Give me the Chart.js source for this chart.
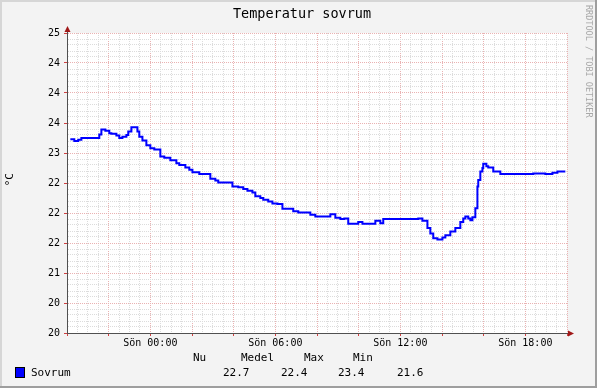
<!DOCTYPE html>
<html>
<head>
<meta charset="utf-8">
<script src="https://cdn.jsdelivr.net/npm/chart.js@4/dist/chart.umd.min.js"></script>
<style>
  html, body { margin: 0; padding: 0; background: #f3f3f3; }
  canvas { display: block; }
</style>
</head>
<body>
<canvas id="chart" width="597" height="388"></canvas>
<script>
const chartTitle = "Temperatur sovrum";
const seriesName = "Sovrum";
const unitLabel = " °C";

// timmar relativt Sön 00:00 (steg startar vid varje tid) och temperatur
const hours = [-3.84, -3.65, -3.46, -3.31, -2.45, -2.35, -2.16, -1.97, -1.87, -1.63,
  -1.49, -1.34, -1.15, -1.06, -0.91, -0.62, -0.53, -0.38, -0.19, 0,
  0.19, 0.48, 0.67, 0.96, 1.25, 1.39, 1.68, 1.87, 2.02, 2.35,
  2.88, 3.12, 3.26, 3.94, 4.22, 4.46, 4.66, 4.90, 5.04, 5.28,
  5.42, 5.66, 5.86, 6.10, 6.34, 6.86, 7.10, 7.68, 7.92, 8.64,
  8.88, 9.12, 9.31, 9.50, 9.98, 10.18, 10.80, 11.04, 11.18, 12.86,
  13.06, 13.30, 13.44, 13.58, 13.78, 14.02, 14.16, 14.40, 14.64, 14.88,
  15.02, 15.12, 15.26, 15.36, 15.46, 15.60, 15.70, 15.74, 15.84, 15.94,
  15.98, 16.13, 16.22, 16.46, 16.80, 18.38, 18.96, 19.30, 19.54, 19.92];
const temps = [23.23, 23.20, 23.22, 23.25, 23.31, 23.39, 23.37, 23.33, 23.32, 23.29,
  23.25, 23.27, 23.30, 23.36, 23.43, 23.36, 23.27, 23.21, 23.13, 23.08,
  23.06, 22.94, 22.92, 22.88, 22.83, 22.80, 22.76, 22.72, 22.68, 22.65,
  22.57, 22.54, 22.51, 22.44, 22.43, 22.40, 22.37, 22.34, 22.28, 22.25,
  22.22, 22.19, 22.16, 22.15, 22.07, 22.03, 22.01, 21.97, 21.94, 21.98,
  21.92, 21.90, 21.91, 21.82, 21.85, 21.82, 21.87, 21.83, 21.90, 21.91,
  21.87, 21.75, 21.66, 21.58, 21.56, 21.59, 21.63, 21.69, 21.75, 21.85,
  21.91, 21.94, 21.91, 21.88, 21.93, 22.08, 22.44, 22.55, 22.69, 22.75,
  22.82, 22.78, 22.76, 22.69, 22.65, 22.66, 22.65, 22.67, 22.69, 22.69];

// y-etiketter 20..25 i steg om 0.5 (avrundade som i rrdtool)
const yTickLabels = ["20", "20", "21", "22", "22", "22", "23", "24", "24", "24", "25"];
const xTickHours = [0, 6, 12, 18];
const xTickLabels = ["Sön 00:00", "Sön 06:00", "Sön 12:00", "Sön 18:00"];

const statNames = ["Nu", "Medel", "Max", "Min"];
const statValues = ["22.7", "22.4", "23.4", "21.6"];

const MONO = '"DejaVu Sans Mono", monospace';
const MINOR = "#dcdcdc";
const MAJOR = "#eab2b2";

const isMultiple = (v, step) => Math.abs(v / step - Math.round(v / step)) < 1e-6;

const rrdFrame = {
  id: "rrdFrame",
  beforeDraw(chart) {
    const { ctx, width, height, chartArea: a } = chart;
    ctx.save();
    ctx.fillStyle = "#f3f3f3";
    ctx.fillRect(0, 0, width, height);
    ctx.fillStyle = "#ffffff";
    ctx.fillRect(a.left, a.top, a.right - a.left, a.bottom - a.top);
    ctx.fillStyle = "#d6d6d6";
    ctx.fillRect(0, 0, width, 2);
    ctx.fillRect(0, 0, 2, height);
    ctx.fillStyle = "#9e9e9e";
    ctx.fillRect(0, height - 2, width, 2);
    ctx.fillRect(width - 2, 0, 2, height);
    ctx.restore();
  },
  afterDraw(chart) {
    const { ctx, chartArea: a } = chart;
    ctx.save();
    // rubrik
    ctx.font = "13.5px " + MONO;
    ctx.fillStyle = "#000";
    ctx.textAlign = "center";
    ctx.textBaseline = "middle";
    ctx.fillText(chartTitle, 302, 14);
    ctx.textAlign = "left";

    // axelförlängningar och pilar
    ctx.strokeStyle = "#505050";
    ctx.lineWidth = 1;
    ctx.beginPath();
    ctx.moveTo(a.left + 0.5, a.top);
    ctx.lineTo(a.left + 0.5, a.top - 3);
    ctx.moveTo(a.right, a.bottom + 0.5);
    ctx.lineTo(a.right + 3, a.bottom + 0.5);
    ctx.stroke();
    ctx.fillStyle = "#a01818";
    ctx.beginPath();
    ctx.moveTo(a.left + 0.5, a.top - 7);
    ctx.lineTo(a.left - 2.5, a.top - 1);
    ctx.lineTo(a.left + 3.5, a.top - 1);
    ctx.closePath();
    ctx.fill();
    ctx.beginPath();
    ctx.moveTo(a.right + 7, a.bottom + 0.5);
    ctx.lineTo(a.right + 1, a.bottom - 2.5);
    ctx.lineTo(a.right + 1, a.bottom + 3.5);
    ctx.closePath();
    ctx.fill();

    // vattenmärke
    ctx.save();
    ctx.translate(588, 5);
    ctx.rotate(Math.PI / 2);
    ctx.font = "8.5px " + MONO;
    ctx.fillStyle = "#a8a8a8";
    ctx.textBaseline = "middle";
    ctx.fillText("RRDTOOL / TOBI OETIKER", 0, 0);
    ctx.restore();

    // förklaring och statistik
    ctx.font = "11px " + MONO;
    ctx.fillStyle = "#000";
    ctx.textBaseline = "middle";
    const headX = [193, 241, 304, 353];
    const valX = [223, 281, 338, 397];
    statNames.forEach((n, i) => ctx.fillText(n, headX[i], 358));
    statValues.forEach((v, i) => ctx.fillText(v, valX[i], 373));
    ctx.fillText(chart.data.datasets[0].label, 31, 373);
    ctx.fillStyle = "#0000ff";
    ctx.fillRect(15.5, 367.5, 9, 10);
    ctx.strokeStyle = "#000";
    ctx.strokeRect(15.5, 367.5, 9, 10);
    ctx.restore();
  }
};

new Chart(document.getElementById("chart"), {
  type: "line",
  data: {
    datasets: [{
      label: seriesName,
      data: hours.map((h, i) => ({ x: h, y: temps[i] })),
      borderColor: "#0000ff",
      borderWidth: 2,
      pointRadius: 0,
      stepped: true,
      fill: false,
    }],
  },
  options: {
    responsive: false,
    animation: false,
    devicePixelRatio: 1,
    layout: { padding: { left: 0, right: 30, top: 33, bottom: 35 } },
    plugins: {
      legend: { display: false },
      tooltip: { enabled: false },
      title: { display: false },
    },
    scales: {
      x: {
        type: "linear",
        min: -4,
        max: 20,
        afterFit: s => { s.height = 20; },
        border: { display: true, color: "#505050", dash: [1, 1] },
        grid: {
          color: c => isMultiple(c.tick.value, 2) ? MAJOR : MINOR,
          tickColor: c => isMultiple(c.tick.value, 2) ? "#d04040" : "rgba(0,0,0,0)",
          tickLength: 3,
        },
        ticks: {
          stepSize: 0.5,
          autoSkip: false,
          maxRotation: 0,
          padding: 1,
          color: "#000",
          font: { family: MONO, size: 10 },
          callback: v => {
            const i = xTickHours.indexOf(v);
            return i >= 0 ? xTickLabels[i] : "";
          },
        },
      },
      y: {
        min: 20,
        max: 25,
        afterFit: s => { s.width = 67; },
        border: { display: true, color: "#505050", dash: [1, 1] },
        grid: {
          color: c => isMultiple(c.tick.value, 0.5) ? MAJOR : MINOR,
          tickColor: c => isMultiple(c.tick.value, 0.5) ? "#d04040" : "rgba(0,0,0,0)",
          tickLength: 3,
        },
        title: {
          display: true,
          text: unitLabel,
          color: "#000",
          font: { family: MONO, size: 11 },
          padding: { top: 4, bottom: 0 },
        },
        ticks: {
          stepSize: 0.1,
          autoSkip: false,
          padding: 4,
          color: "#000",
          font: { family: MONO, size: 10 },
          callback: v => isMultiple(v, 0.5) ? yTickLabels[Math.round((v - 20) * 2)] : "",
        },
      },
    },
  },
  plugins: [rrdFrame],
});
</script>
</body>
</html>
